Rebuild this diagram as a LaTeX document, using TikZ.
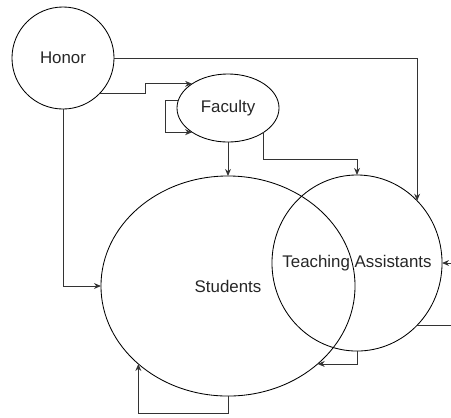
\documentclass[tikz,border=0pt]{standalone}
\usepackage{fontspec}
\setmainfont{Liberation Sans}
\usepackage{tikz}
\usetikzlibrary{
	arrows.meta,
	shapes.geometric,
	positioning,
	}

\begin{document}
\begin{tikzpicture}[x=0.025cm,y=-0.025cm,
	line width=0.6pt,
	every node/.style={font=\fontsize{12}{14}\selectfont,inner sep=0pt,outer sep=0pt,text=black!85},
	blob/.style={draw,ellipse},
	link/.style={draw=black!80,-{Stealth[length=5pt,width=4.2pt]}},
	]
\useasboundingbox (0,0) rectangle (451,417);
% sets
\node[blob,minimum width=2.55cm,minimum height=2.55cm] (honor) at (63,58) {Honor};
\node[blob,minimum width=2.55cm,minimum height=1.7cm] (faculty) at (228,108) {Faculty};
\node[blob,minimum width=6.35cm,minimum height=5.5cm] (students) at (228,286) {Students};
\node[blob,minimum width=4.25cm,minimum height=4.4cm] (ta) at (357,263) {};
\node (talabel) at (ta.center) {Teaching Assistants};
% loose ends at the right margin
\path (ta.east) ++(9,0) coordinate (tain);
\path (ta.-46) ++(34,0) coordinate (taout);
% links out of Honor
\draw[link] (honor.east) -| (ta.46);
\draw[link] (honor.-44) -- ++(46,0) |- (faculty.146);
\draw[link] (honor.south) |- (students.west);
% links out of Faculty
\draw[link] (faculty.171) -- ++(-13,0) |- (faculty.214);
\draw[link] (faculty.south) -- (students.north);
\draw[link] (faculty.-34) -- ++(0,27) -| (ta.north);
% links out of Teaching Assistants and Students
\draw[link] (tain) -- (ta.east);
\draw[draw=black!80] (ta.-46) -- (taout);
\draw[link] (ta.south) |- (students.-41);
\draw[link] (students.south) -- ++(0,17) -| (students.221);
\end{tikzpicture}
\end{document}
